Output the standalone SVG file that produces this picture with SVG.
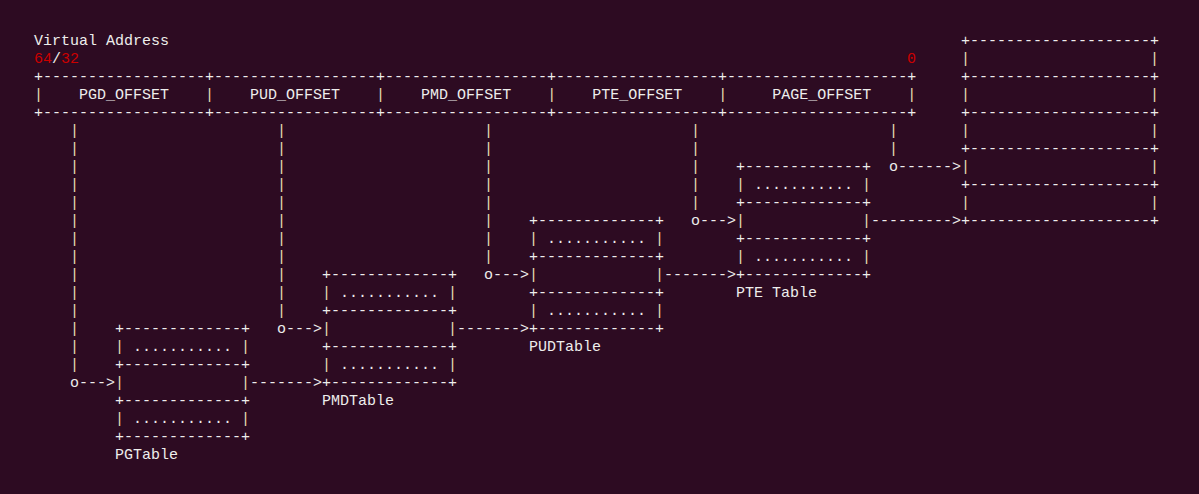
<svg xmlns="http://www.w3.org/2000/svg" width="1199" height="494" viewBox="0 0 1199 494" xml:space="preserve">
<style>
text{font-family:"Liberation Mono","DejaVu Sans Mono",monospace;font-size:15px;fill:#eeeeec;white-space:pre}
.r{fill:#cc0000}
.p{fill:#e8dfb0}
</style>
<rect width="1199" height="494" fill="#2d0b22"/>
<g id="virtual-address">
<text x="34" y="45">Virtual Address</text>
<text x="34" y="63"><tspan class="r">64</tspan>/<tspan class="r">32</tspan></text>
<text x="907" y="63" class="r">0</text>
<text x="34" y="81">+------------------+------------------+------------------+------------------+--------------------+</text>
<text x="34" y="99"><tspan class="p">|</tspan>    PGD_OFFSET    <tspan class="p">|</tspan>    PUD_OFFSET    <tspan class="p">|</tspan>    PMD_OFFSET    <tspan class="p">|</tspan>    PTE_OFFSET    <tspan class="p">|</tspan>     PAGE_OFFSET    <tspan class="p">|</tspan></text>
<text x="34" y="117">+------------------+------------------+------------------+------------------+--------------------+</text>
</g>
<g id="physical-page">
<text x="961" y="45">+--------------------+</text>
<text x="961" y="63" class="p">|                    |</text>
<text x="961" y="81">+--------------------+</text>
<text x="961" y="99" class="p">|                    |</text>
<text x="961" y="117">+--------------------+</text>
<text x="961" y="135" class="p">|                    |</text>
<text x="961" y="153">+--------------------+</text>
<text x="961" y="171" class="p">|                    |</text>
<text x="961" y="189">+--------------------+</text>
<text x="961" y="207" class="p">|                    |</text>
<text x="961" y="225">+--------------------+</text>
</g>
<g id="pg-table">
<text x="115" y="333">+-------------+</text>
<text x="115" y="351"><tspan class="p">|</tspan> ........... <tspan class="p">|</tspan></text>
<text x="115" y="369">+-------------+</text>
<text x="115" y="387" class="p">|             |</text>
<text x="115" y="405">+-------------+</text>
<text x="115" y="423"><tspan class="p">|</tspan> ........... <tspan class="p">|</tspan></text>
<text x="115" y="441">+-------------+</text>
<text x="115" y="459">PGTable</text>
</g>
<g id="pmd-table">
<text x="322" y="279">+-------------+</text>
<text x="322" y="297"><tspan class="p">|</tspan> ........... <tspan class="p">|</tspan></text>
<text x="322" y="315">+-------------+</text>
<text x="322" y="333" class="p">|             |</text>
<text x="322" y="351">+-------------+</text>
<text x="322" y="369"><tspan class="p">|</tspan> ........... <tspan class="p">|</tspan></text>
<text x="322" y="387">+-------------+</text>
<text x="322" y="405">PMDTable</text>
</g>
<g id="pud-table">
<text x="529" y="225">+-------------+</text>
<text x="529" y="243"><tspan class="p">|</tspan> ........... <tspan class="p">|</tspan></text>
<text x="529" y="261">+-------------+</text>
<text x="529" y="279" class="p">|             |</text>
<text x="529" y="297">+-------------+</text>
<text x="529" y="315"><tspan class="p">|</tspan> ........... <tspan class="p">|</tspan></text>
<text x="529" y="333">+-------------+</text>
<text x="529" y="351">PUDTable</text>
</g>
<g id="pte-table">
<text x="736" y="171">+-------------+</text>
<text x="736" y="189"><tspan class="p">|</tspan> ........... <tspan class="p">|</tspan></text>
<text x="736" y="207">+-------------+</text>
<text x="736" y="225" class="p">|             |</text>
<text x="736" y="243">+-------------+</text>
<text x="736" y="261"><tspan class="p">|</tspan> ........... <tspan class="p">|</tspan></text>
<text x="736" y="279">+-------------+</text>
<text x="736" y="297">PTE Table</text>
</g>
<g id="connectors">
<text class="p"><tspan x="70" y="135">|</tspan><tspan x="70" y="153">|</tspan><tspan x="70" y="171">|</tspan><tspan x="70" y="189">|</tspan><tspan x="70" y="207">|</tspan><tspan x="70" y="225">|</tspan><tspan x="70" y="243">|</tspan><tspan x="70" y="261">|</tspan><tspan x="70" y="279">|</tspan><tspan x="70" y="297">|</tspan><tspan x="70" y="315">|</tspan><tspan x="70" y="333">|</tspan><tspan x="70" y="351">|</tspan><tspan x="70" y="369">|</tspan></text>
<text x="70" y="387">o---&gt;</text>
<text x="250" y="387">-------&gt;</text>
<text class="p"><tspan x="277" y="135">|</tspan><tspan x="277" y="153">|</tspan><tspan x="277" y="171">|</tspan><tspan x="277" y="189">|</tspan><tspan x="277" y="207">|</tspan><tspan x="277" y="225">|</tspan><tspan x="277" y="243">|</tspan><tspan x="277" y="261">|</tspan><tspan x="277" y="279">|</tspan><tspan x="277" y="297">|</tspan><tspan x="277" y="315">|</tspan></text>
<text x="277" y="333">o---&gt;</text>
<text x="457" y="333">-------&gt;</text>
<text class="p"><tspan x="484" y="135">|</tspan><tspan x="484" y="153">|</tspan><tspan x="484" y="171">|</tspan><tspan x="484" y="189">|</tspan><tspan x="484" y="207">|</tspan><tspan x="484" y="225">|</tspan><tspan x="484" y="243">|</tspan><tspan x="484" y="261">|</tspan></text>
<text x="484" y="279">o---&gt;</text>
<text x="664" y="279">-------&gt;</text>
<text class="p"><tspan x="691" y="135">|</tspan><tspan x="691" y="153">|</tspan><tspan x="691" y="171">|</tspan><tspan x="691" y="189">|</tspan><tspan x="691" y="207">|</tspan></text>
<text x="691" y="225">o---&gt;</text>
<text x="871" y="225">---------&gt;</text>
<text class="p"><tspan x="889" y="135">|</tspan><tspan x="889" y="153">|</tspan></text>
<text x="889" y="171">o------&gt;</text>
</g>
</svg>
